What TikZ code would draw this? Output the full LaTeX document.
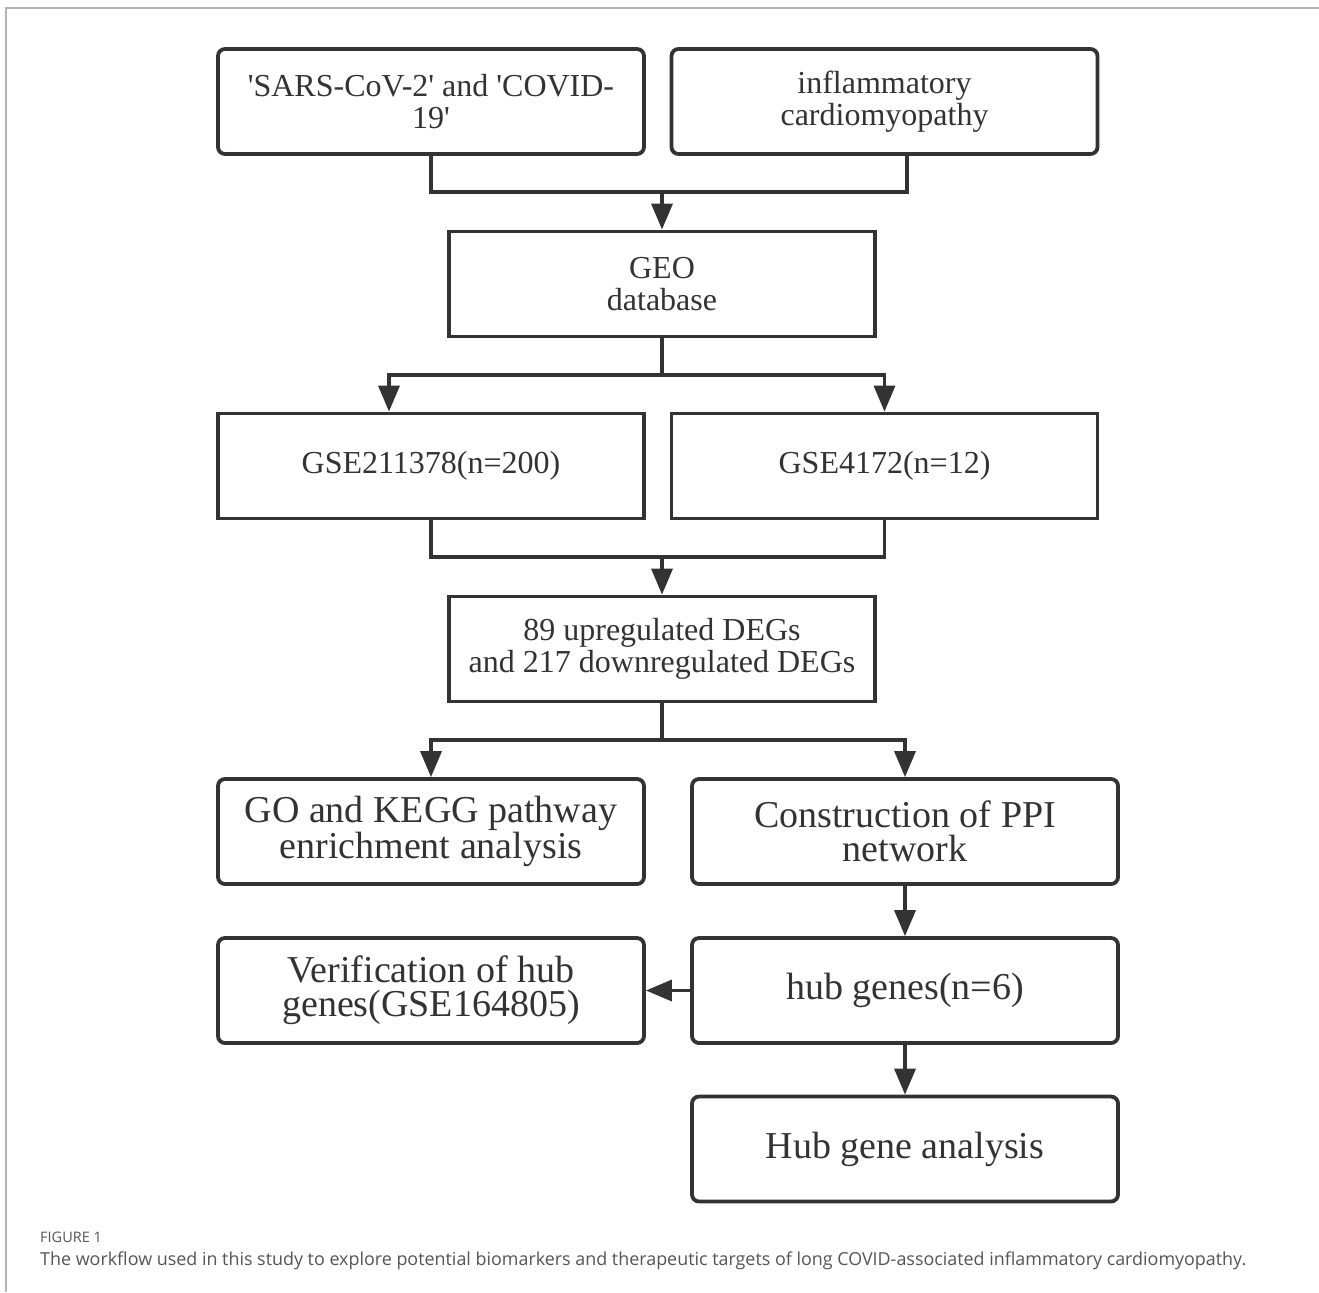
\documentclass[tikz,border=0pt]{standalone}
\usepackage{fontspec}
\setmainfont{Liberation Serif}[Ligatures=TeXOff]
\newfontfamily\capfont{Open Sans}
\usetikzlibrary{arrows.meta}
\definecolor{ink}{HTML}{333333}
\definecolor{framecol}{HTML}{B4B4B4}
\definecolor{captxt}{HTML}{555555}
\begin{document}
\begin{tikzpicture}[x=1bp,y=-1bp,
  box/.style={draw=ink, line width=3.8bp, text=ink, minimum width=426bp, minimum height=105bp, align=center, inner sep=0pt},
  rbox/.style={box, rounded corners=7bp},
  smalltxt/.style={font=\fontsize{32bp}{32bp}\selectfont},
  bigtxt/.style={font=\fontsize{38bp}{34bp}\selectfont},
  conn/.style={draw=ink, line width=3.5bp},
  arr/.style={conn, -{Triangle[length=26bp,width=21bp]}},
  caplab/.style={anchor=base west, text=captxt, inner sep=0pt, font=\capfont\fontsize{14.5bp}{14.5bp}\selectfont},
  captext/.style={anchor=base west, text=captxt, inner sep=0pt, font=\capfont\fontsize{17.9bp}{18bp}\selectfont},
]
\useasboundingbox (0,0) rectangle (1319,1292);
\fill[white] (0,0) rectangle (1319,1292);
\draw[framecol, line width=2bp] (1319,8) -- (6,8) -- (6,1292);

\node[rbox, smalltxt] (sars) at (431,101.5) {'SARS-CoV-2' and 'COVID-\\19'};
\node[rbox, smalltxt] (infl) at (884.5,101.5) {inflammatory\\cardiomyopathy};
\node[box, smalltxt] (geo) at (662,284) {GEO\\database};
\node[box, smalltxt] (gse1) at (431,466) {GSE211378(n=200)};
\node[box, smalltxt] (gse2) at (884.5,466) {GSE4172(n=12)};
\node[box, smalltxt] (deg) at (662,649) {89 upregulated DEGs\\and 217 downregulated DEGs};
\node[rbox, bigtxt] (go) at (431,831.5) {GO and KEGG pathway\\enrichment analysis};
\node[rbox, bigtxt] (ppi) at (905,831.5) {Construction of PPI\\network};
\node[rbox, bigtxt] (verif) at (431,990.5) {Verification of hub\\genes(GSE164805)};
\node[rbox, bigtxt] (hub) at (905,990.5) {hub genes(n=6)};
\node[rbox, bigtxt] (hubana) at (905,1149) {Hub gene analysis};

\coordinate (j1) at (662,192);
\coordinate (j2) at (662,375);
\coordinate (j3) at (662,557);
\coordinate (j4) at (662,740);

\draw[conn] (sars.south) |- (j1);
\draw[conn] ([xshift=22.5bp]infl.south) |- (j1);
\draw[arr] (j1) -- (geo.north);

\draw[conn] (geo.south) -- (j2);
\draw[arr] (j2) -| ([xshift=-42bp]gse1.north);
\draw[arr] (j2) -| (gse2.north);

\draw[conn] (gse1.south) |- (j3);
\draw[conn] (gse2.south) |- (j3);
\draw[arr] (j3) -- (deg.north);

\draw[conn] (deg.south) -- (j4);
\draw[arr] (j4) -| (go.north);
\draw[arr] (j4) -| (ppi.north);

\draw[arr] (ppi.south) -- (hub.north);
\draw[arr] (hub.west) -- (verif.east);
\draw[arr] (hub.south) -- (hubana.north);

\node[caplab] (figlab) at (40,1242) {FIGURE 1};
\node[captext] (cap) at (40,1265) {The workflow used in this study to explore potential biomarkers and therapeutic targets of long COVID-associated inflammatory cardiomyopathy.};
\end{tikzpicture}
\end{document}
